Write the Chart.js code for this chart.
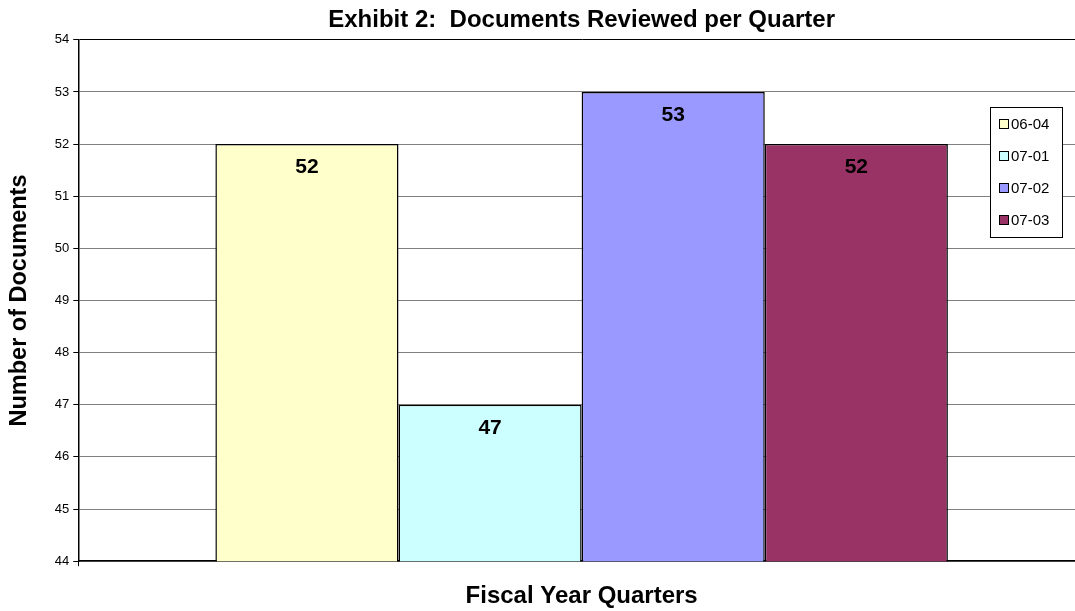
<!DOCTYPE html>
<html>
<head>
<meta charset="utf-8">
<script src="https://cdn.jsdelivr.net/npm/chart.js@4"></script>
<style>
  html, body { margin: 0; padding: 0; background: #fff; overflow: hidden; }
  #wrap { width: 1085px; height: 611px; }
</style>
</head>
<body>
<div id="wrap"><canvas id="docsChart"></canvas></div>
<script>
// Exhibit 2 - documenti revisionati per trimestre
const quarters = ['06-04', '07-01', '07-02', '07-03'];
const documents = [52, 47, 53, 52];
const barColors = ['#FFFFCC', '#CCFFFF', '#9999FF', '#993366'];
const yTicks = [44, 45, 46, 47, 48, 49, 50, 51, 52, 53, 54];

const FONT = 'Arial, "Liberation Sans", sans-serif';

// valori dentro la barra, vicino al bordo alto
const valueLabels = {
  id: 'valueLabels',
  afterDatasetsDraw(chart) {
    const ctx = chart.ctx;
    ctx.save();
    ctx.font = 'bold 21px ' + FONT;
    ctx.fillStyle = '#000';
    ctx.textAlign = 'center';
    ctx.textBaseline = 'middle';
    chart.data.datasets.forEach((ds, i) => {
      const bar = chart.getDatasetMeta(i).data[0];
      ctx.fillText(String(ds.data[0]), bar.x, bar.y + 23);
    });
    ctx.restore();
  }
};

// legenda in stile Excel, sovrapposta all'area del grafico
const boxLegend = {
  id: 'boxLegend',
  afterDraw(chart) {
    const ctx = chart.ctx;
    const x = 990, y = 107, w = 72, h = 130;
    ctx.save();
    ctx.fillStyle = '#fff';
    ctx.fillRect(x, y, w, h);
    ctx.strokeStyle = '#000';
    ctx.lineWidth = 1;
    ctx.strokeRect(x + 0.5, y + 0.5, w, h);
    ctx.font = '15px ' + FONT;
    ctx.textBaseline = 'middle';
    chart.data.datasets.forEach((ds, i) => {
      const cy = y + 17 + i * 32;
      ctx.fillStyle = ds.backgroundColor;
      ctx.fillRect(x + 9, cy - 5, 10, 10);
      ctx.strokeRect(x + 9.5, cy - 4.5, 9, 9);
      ctx.fillStyle = '#000';
      ctx.fillText(ds.label, x + 21, cy + 1);
    });
    ctx.restore();
  }
};

new Chart(document.getElementById('docsChart'), {
  type: 'bar',
  data: {
    labels: [''],
    datasets: quarters.map((q, i) => ({
      label: q,
      data: [documents[i]],
      backgroundColor: barColors[i],
      borderColor: '#000',
      borderWidth: 1.5
    }))
  },
  options: {
    responsive: true,
    maintainAspectRatio: false,
    animation: false,
    layout: { padding: { left: 5, right: 0, top: 0, bottom: 0 } },
    datasets: { bar: { categoryPercentage: 0.7276, barPercentage: 1 } },
    plugins: {
      legend: { display: false },
      tooltip: { enabled: false },
      title: {
        display: true,
        fullSize: false,
        text: 'Exhibit 2:  Documents Reviewed per Quarter',
        color: '#000',
        font: { family: FONT, size: 24, weight: 'bold' },
        padding: { top: 6, bottom: 5 }
      }
    },
    scales: {
      x: {
        offset: true,
        ticks: { display: false },
        grid: { offset: true, drawOnChartArea: false, tickLength: 5, color: '#000' },
        border: { color: '#000', width: 1.5 },
        title: {
          display: true,
          text: 'Fiscal Year Quarters',
          color: '#000',
          font: { family: FONT, size: 24, weight: 'bold' },
          padding: { top: 16, bottom: 0 }
        }
      },
      y: {
        min: 44,
        max: 54,
        afterBuildTicks: scale => { scale.ticks = yTicks.map(v => ({ value: v })); },
        ticks: { color: '#000', font: { family: FONT, size: 13 }, padding: 4 },
        grid: {
          color: c => (c.tick && c.tick.value === 54 ? '#000' : '#808080'),
          tickColor: '#000',
          tickLength: 5
        },
        border: { color: '#000', width: 1.5 },
        title: {
          display: true,
          text: 'Number of Documents',
          color: '#000',
          font: { family: FONT, size: 23.5, weight: 'bold' },
          padding: { top: 0, bottom: 17.6 }
        }
      }
    }
  },
  plugins: [valueLabels, boxLegend]
});
</script>
</body>
</html>
